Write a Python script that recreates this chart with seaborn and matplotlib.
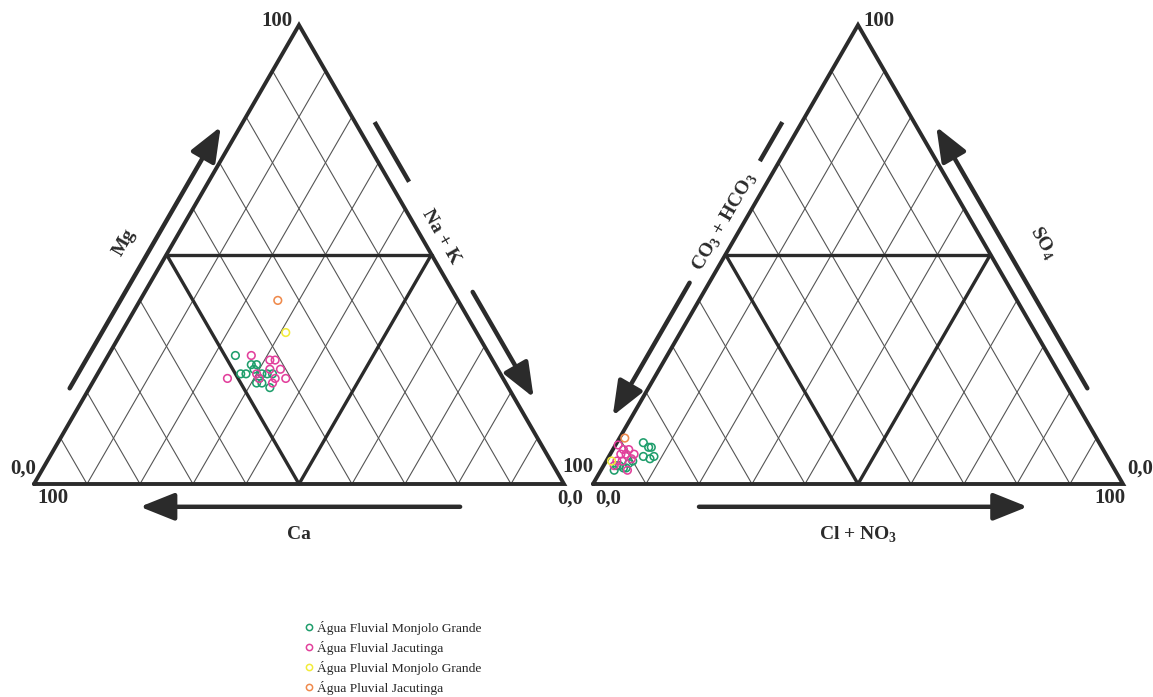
import numpy as np
import pandas as pd
import matplotlib
matplotlib.use("Agg")
import matplotlib.pyplot as plt
import seaborn as sns
from matplotlib.lines import Line2D

# cations (%): Ca, Mg, Na+K
ca_fmg = [48, 46, 45, 48, 49, 45, 44, 43, 46, 47, 46, 45, 46]
mg_fmg = [28, 26, 26, 24, 24, 24, 24, 24, 23, 22, 22, 21, 25]
nak_fmg = [24, 28, 29, 28, 27, 31, 32, 33, 31, 31, 32, 34, 29]

ca_fj = [45, 42, 41, 43, 41, 46, 52, 43, 41, 44, 46]
mg_fj = [28, 27, 27, 25, 25, 24, 23, 23, 23, 22, 23]
nak_fj = [27, 31, 32, 32, 34, 30, 25, 34, 36, 34, 31]

ca_pmg, mg_pmg, nak_pmg = [36], [33], [31]
ca_pj, mg_pj, nak_pj = [34], [40], [26]

# anions (%): CO3+HCO3, SO4, Cl+NO3
hco3_fmg = [86, 85.5, 85, 87.5, 86.5, 85.5, 90, 93.5, 92.5, 91, 94.5, 93, 92]
so4_fmg = [9, 8, 8, 6, 5.5, 6, 5, 4, 3.5, 4.5, 3, 4, 3.5]
cl_fmg = [5, 6.5, 7, 6.5, 8, 8.5, 5, 2.5, 4, 4.5, 2.5, 3, 4.5]

hco3_fj = [90.5, 89.5, 91.5, 90.5, 89, 93, 92, 92, 91, 94, 90]
so4_fj = [7.5, 7.5, 6.5, 6.5, 6.5, 5, 5, 3, 8.5, 4, 5.5]
cl_fj = [2, 3, 2, 3, 4.5, 2, 3, 5, 0.5, 2, 4.5]

hco3_pmg, so4_pmg, cl_pmg = [94], [5], [1]
hco3_pj, so4_pj, cl_pj = [89], [10], [1]

series = ["Água Fluvial Monjolo Grande", "Água Fluvial Jacutinga",
          "Água Pluvial Monjolo Grande", "Água Pluvial Jacutinga"]
colors = ["#1f9e6c", "#e2409c", "#f2ec3a", "#ef8a4c"]

H = np.sqrt(3) / 2
OFF = 1.0547  # x offset of the anion triangle
INK = "#2b2b2b"


def tern_xy(top, right, ox):
    top = np.asarray(top, float) / 100
    right = np.asarray(right, float) / 100
    return ox + right + top / 2, top * H


rows = []
cat = [(mg_fmg, nak_fmg), (mg_fj, nak_fj), (mg_pmg, nak_pmg), (mg_pj, nak_pj)]
ani = [(so4_fmg, cl_fmg), (so4_fj, cl_fj), (so4_pmg, cl_pmg), (so4_pj, cl_pj)]
for name, (t, r) in zip(series, cat):
    x, y = tern_xy(t, r, 0)
    rows.append(pd.DataFrame({"x": x, "y": y, "serie": name}))
for name, (t, r) in zip(series, ani):
    x, y = tern_xy(t, r, OFF)
    rows.append(pd.DataFrame({"x": x, "y": y, "serie": name}))
df = pd.concat(rows, ignore_index=True)

sns.set_theme(style="white")
plt.rcParams["font.family"] = ["Liberation Serif", "DejaVu Serif"]
plt.rcParams["mathtext.fontset"] = "custom"
plt.rcParams["mathtext.rm"] = "Liberation Serif:bold"
plt.rcParams["mathtext.bf"] = "Liberation Serif:bold"

fig = plt.figure(figsize=(11.53, 6.97), dpi=100)
ax = fig.add_axes([0, 0, 1, 1])
ax.set_xlim(-34 / 530, (1153 - 34) / 530)
ax.set_ylim((484 - 697) / 530, 484 / 530)
ax.axis("off")


def left_pt(ox, s, off):
    return ox + s / 2 - off * H, s * H + off * 0.5


def right_pt(ox, s, off):
    return ox + 1 - s / 2 + off * H, s * H + off * 0.5


def draw_triangle(ox):
    # thin diamond grid
    for k in range(1, 10):
        t = k / 10
        ax.plot([ox + t, ox + t + (1 - t) / 2], [0, (1 - t) * H], color="#555555", lw=0.8, zorder=1)
        ax.plot([ox + t, ox + t / 2], [0, t * H], color="#555555", lw=0.8, zorder=1)
    # bold outline and inner lines
    ax.plot([ox, ox + 1, ox + 0.5, ox], [0, 0, H, 0], color=INK, lw=2.8,
            solid_joinstyle="miter", zorder=2)
    ax.plot([ox + 0.25, ox + 0.75], [H / 2, H / 2], color=INK, lw=2.4, zorder=2)
    ax.plot([ox + 0.25, ox + 0.5, ox + 0.75], [H / 2, 0, H / 2], color=INK, lw=2.4, zorder=2)


def arrow(tail, head):
    ax.annotate("", xy=head, xytext=tail,
                arrowprops=dict(arrowstyle="-|>,head_length=1.05,head_width=0.42",
                                lw=3.2, color=INK, mutation_scale=20,
                                shrinkA=0, shrinkB=0))


def seg(p, q):
    ax.plot([p[0], q[0]], [p[1], q[1]], color=INK, lw=3.2, solid_capstyle="butt")


draw_triangle(0)
draw_triangle(OFF)

d = 0.032
# cation arrows
arrow(left_pt(0, 0.19, d), left_pt(0, 0.76, d))
seg(right_pt(0, 0.77, d), right_pt(0, 0.64, d))
arrow(right_pt(0, 0.40, d), right_pt(0, 0.17, d))
arrow((0.804, -0.043), (0.20, -0.043))
# anion arrows
seg(left_pt(OFF, 0.77, d), left_pt(OFF, 0.685, d))
arrow(left_pt(OFF, 0.42, d), left_pt(OFF, 0.13, d))
arrow(right_pt(OFF, 0.19, d), right_pt(OFF, 0.76, d))
arrow((OFF + 0.20, -0.043), (OFF + 0.82, -0.043))

lab = dict(fontsize=14, fontweight="bold", color=INK, ha="center", va="center",
           rotation_mode="anchor")
ax.text(*left_pt(0, 0.48, 0.08), "Mg", rotation=60, **lab)
ax.text(*right_pt(0, 0.52, d), "Na + K", rotation=-60, **lab)
ax.text(0.5, -0.096, "Ca", **lab)
ax.text(*left_pt(OFF, 0.553, d), r"CO$_{3}$ + HCO$_{3}$", rotation=60, **lab)
ax.text(*right_pt(OFF, 0.47, 0.095), r"SO$_{4}$", rotation=-60, **lab)
ax.text(OFF + 0.5, -0.096, r"Cl + NO$_{3}$", **lab)

corner = dict(fontsize=15, fontweight="bold", color=INK, ha="center", va="center")
ax.text(-0.021, 0.029, "0,0", **corner)
ax.text(0.036, -0.027, "100", **corner)
ax.text(0.459, H + 0.008, "100", **corner)
ax.text(1.011, -0.027, "0,0", **corner)
ax.text(OFF - 0.029, 0.032, "100", **corner)
ax.text(OFF + 0.029, -0.027, "0,0", **corner)
ax.text(OFF + 0.539, H + 0.008, "100", **corner)
ax.text(OFF + 1.032, 0.030, "0,0", **corner)
ax.text(OFF + 0.975, -0.027, "100", **corner)

sns.scatterplot(data=df, x="x", y="y", hue="serie", palette=dict(zip(series, colors)),
                s=30, marker="o", legend=False, ax=ax, zorder=5)
for coll in ax.collections:
    fc = coll.get_facecolors()
    coll.set_edgecolors(fc)
    coll.set_facecolors("none")
    coll.set_linewidth(1.15)

handles = [Line2D([], [], ls="", marker="o", ms=4.5, mfc="none", mec=c, mew=1.1)
           for c in colors]
ax.legend(handles, series, loc="upper left", bbox_to_anchor=(305 / 1153, 1 - 621 / 697),
          frameon=False, fontsize=9.7, handlelength=0.6, handletextpad=0.3,
          labelspacing=0.45, borderpad=0, borderaxespad=0)

fig.savefig("out.png", dpi=100)
